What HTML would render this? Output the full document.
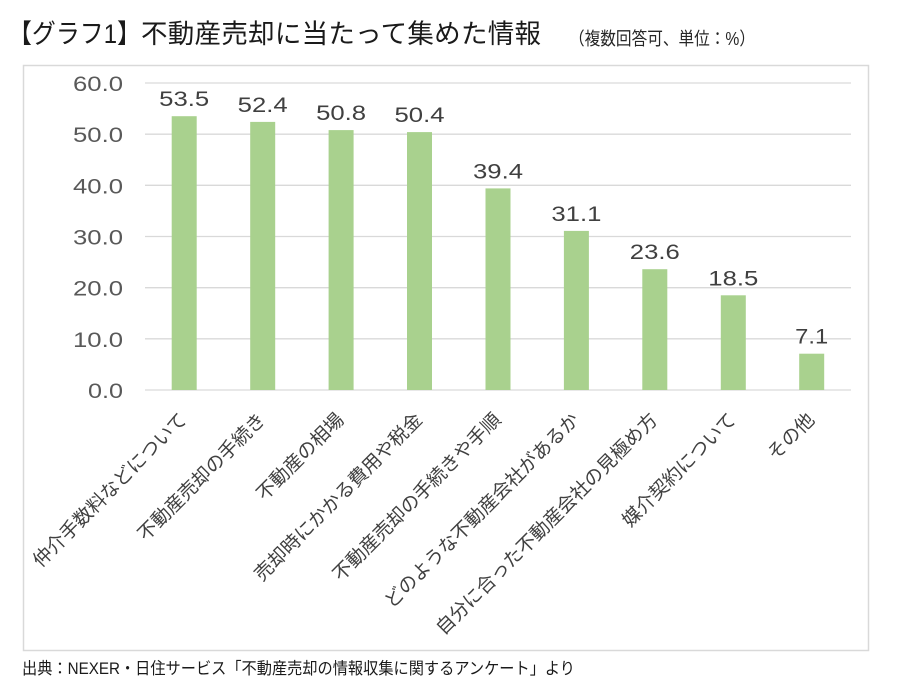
<!DOCTYPE html>
<html lang="ja">
<head>
<meta charset="utf-8">
<style>
  html, body { margin: 0; padding: 0; background: #ffffff; }
  body { width: 900px; height: 700px; overflow: hidden; }
  svg { display: block; }
  .jp { font-family: "Liberation Sans", "Noto Sans CJK JP", sans-serif; }
  .num { font-family: "Liberation Sans", "DejaVu Sans", sans-serif; }
</style>
</head>
<body>
<svg width="900" height="700" viewBox="0 0 900 700" xmlns="http://www.w3.org/2000/svg">
  <rect x="0" y="0" width="900" height="700" fill="#ffffff"/>

  <!-- Title -->
  <text class="jp" x="8" y="43" font-size="26.5" fill="#1a1a1a" textLength="133" lengthAdjust="spacingAndGlyphs">【グラフ1】</text>
  <text class="jp" x="141" y="43" font-size="26.5" fill="#1a1a1a" textLength="400">不動産売却に当たって集めた情報</text>
  <text class="jp" x="569" y="45" font-size="18" fill="#262626" textLength="186" lengthAdjust="spacingAndGlyphs">（複数回答可、単位：%）</text>

  <!-- Chart frame -->
  <rect x="23.5" y="65.5" width="845" height="585" fill="#ffffff" stroke="#d9d9d9" stroke-width="1.5"/>

  <!-- Gridlines -->
  <g stroke="#d9d9d9" stroke-width="1.3">
    <line x1="145" y1="83" x2="851" y2="83"/>
    <line x1="145" y1="134.2" x2="851" y2="134.2"/>
    <line x1="145" y1="185.3" x2="851" y2="185.3"/>
    <line x1="145" y1="236.5" x2="851" y2="236.5"/>
    <line x1="145" y1="287.7" x2="851" y2="287.7"/>
    <line x1="145" y1="338.8" x2="851" y2="338.8"/>
    <line x1="145" y1="390" x2="851" y2="390"/>
  </g>

  <!-- Y axis labels -->
  <g class="num" font-size="21" fill="#595959" text-anchor="end" lengthAdjust="spacingAndGlyphs">
    <text x="123" y="91" textLength="50" lengthAdjust="spacingAndGlyphs">60.0</text>
    <text x="123" y="142.2" textLength="50" lengthAdjust="spacingAndGlyphs">50.0</text>
    <text x="123" y="193.3" textLength="50" lengthAdjust="spacingAndGlyphs">40.0</text>
    <text x="123" y="244.5" textLength="50" lengthAdjust="spacingAndGlyphs">30.0</text>
    <text x="123" y="295.7" textLength="50" lengthAdjust="spacingAndGlyphs">20.0</text>
    <text x="123" y="346.8" textLength="50" lengthAdjust="spacingAndGlyphs">10.0</text>
    <text x="123" y="398" textLength="35" lengthAdjust="spacingAndGlyphs">0.0</text>
  </g>

  <!-- Bars -->
  <g fill="#a9d18e">
    <rect x="171.7" y="116.2" width="25" height="273.8"/>
    <rect x="250.2" y="121.9" width="25" height="268.1"/>
    <rect x="328.6" y="130.1" width="25" height="259.9"/>
    <rect x="407.0" y="132.1" width="25" height="257.9"/>
    <rect x="485.5" y="188.4" width="25" height="201.6"/>
    <rect x="563.9" y="230.9" width="25" height="159.1"/>
    <rect x="642.3" y="269.2" width="25" height="120.8"/>
    <rect x="720.8" y="295.3" width="25" height="94.7"/>
    <rect x="799.2" y="353.7" width="25" height="36.3"/>
  </g>

  <!-- Data labels -->
  <g class="num" font-size="21" fill="#404040" text-anchor="middle">
    <text x="184.2" y="106.2" textLength="50" lengthAdjust="spacingAndGlyphs">53.5</text>
    <text x="262.7" y="111.9" textLength="50" lengthAdjust="spacingAndGlyphs">52.4</text>
    <text x="341.1" y="120.1" textLength="50" lengthAdjust="spacingAndGlyphs">50.8</text>
    <text x="419.5" y="122.1" textLength="50" lengthAdjust="spacingAndGlyphs">50.4</text>
    <text x="498.0" y="178.4" textLength="50" lengthAdjust="spacingAndGlyphs">39.4</text>
    <text x="576.4" y="220.9" textLength="50" lengthAdjust="spacingAndGlyphs">31.1</text>
    <text x="654.8" y="259.2" textLength="50" lengthAdjust="spacingAndGlyphs">23.6</text>
    <text x="733.3" y="285.3" textLength="50" lengthAdjust="spacingAndGlyphs">18.5</text>
    <text x="811.7" y="343.7" textLength="33" lengthAdjust="spacingAndGlyphs">7.1</text>
  </g>

  <!-- X axis labels (rotated -45deg) -->
  <g class="jp" font-size="19" fill="#404040" text-anchor="end" dominant-baseline="central">
    <text transform="translate(184.2,417) rotate(-45)">仲介手数料などについて</text>
    <text transform="translate(262.7,417) rotate(-45)">不動産売却の手続き</text>
    <text transform="translate(341.1,417) rotate(-45)">不動産の相場</text>
    <text transform="translate(419.5,417) rotate(-45)">売却時にかかる費用や税金</text>
    <text transform="translate(498.0,417) rotate(-45)">不動産売却の手続きや手順</text>
    <text transform="translate(576.4,417) rotate(-45)">どのような不動産会社があるか</text>
    <text transform="translate(654.8,417) rotate(-45)">自分に合った不動産会社の見極め方</text>
    <text transform="translate(733.3,417) rotate(-45)">媒介契約について</text>
    <text transform="translate(811.7,417) rotate(-45)">その他</text>
  </g>

  <!-- Footer -->
  <text class="jp" x="22" y="674" font-size="16.5" fill="#1a1a1a" textLength="553" lengthAdjust="spacingAndGlyphs">出典：NEXER・日住サービス「不動産売却の情報収集に関するアンケート」より</text>
</svg>
</body>
</html>
